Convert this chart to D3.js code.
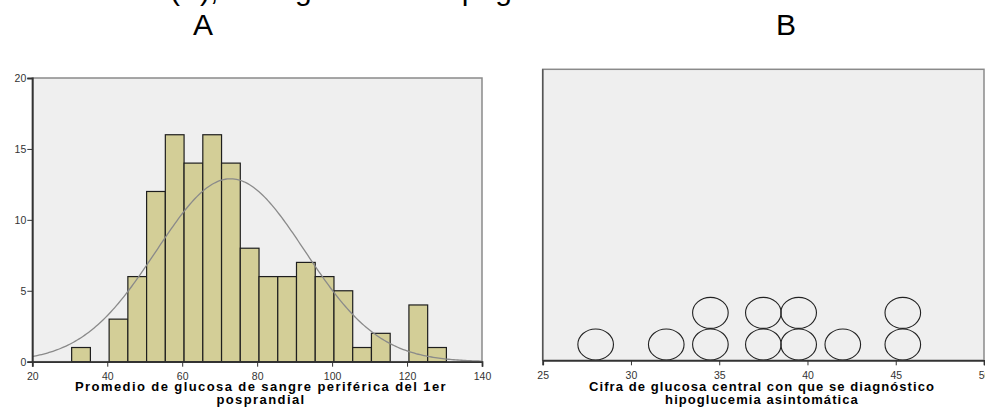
<!DOCTYPE html>
<html>
<head>
<meta charset="utf-8">
<script src="https://cdn.jsdelivr.net/npm/d3@7"></script>
<style>
  body { margin: 0; background: #fff; }
  svg { display: block; font-family: "Liberation Sans", Arial, sans-serif; }
  .tick text { fill: #333; font-size: 10.5px; }
  .axis-title { font-weight: bold; font-size: 13px; fill: #000; }
</style>
</head>
<body>
<div id="chart"></div>
<script>
// histograma A: bins of width 5, lower edges
var binStarts = [30.5, 35.5, 40.5, 45.5, 50.5, 55.5, 60.5, 65.5, 70.5, 75.5, 80.5, 85.5, 90.5, 95.5, 100.5, 105.5, 110.5, 115.5, 120.5, 125.5];
var binCounts = [1, 0, 3, 6, 12, 16, 14, 16, 14, 8, 6, 6, 7, 6, 5, 1, 2, 0, 4, 1];
var binWidth = 5;
var fitMean = 72.9, fitSd = 19.8;
var xTicksA = [20, 40, 60, 80, 100, 120, 140];
var yTicksA = [0, 5, 10, 15, 20];

// diagrama de puntos B
var dotValues = [28, 32, 34.5, 34.5, 37.5, 37.5, 39.5, 39.5, 42, 45.4, 45.4];
var xTicksB = [25, 30, 35, 40, 45, 50];

var width = 985, height = 413;

var svg = d3.select("#chart").append("svg")
  .attr("width", width)
  .attr("height", height);

// clipped caption line above
svg.append("text")
  .attr("x", 170).attr("y", 0)
  .style("font-size", "30px")
  .text("(A), Histograma de la página");

svg.append("text").attr("x", 203).attr("y", 35)
  .attr("text-anchor", "middle").style("font-size", "30px").text("A");
svg.append("text").attr("x", 786).attr("y", 35)
  .attr("text-anchor", "middle").style("font-size", "30px").text("B");

// axis title in two lines, spaced out to the wanted width
function axisTitle(cx, lines, lineWidth) {
  var t = svg.append("text").attr("class", "axis-title").attr("text-anchor", "middle");
  var spans = lines.map(function(s, i) {
    return t.append("tspan").attr("x", cx).attr("y", 391 + i * 12.5).text(s);
  });
  var natural = spans[0].node().getComputedTextLength();
  var ls = (lineWidth - natural) / lines[0].length;
  spans.forEach(function(sp) { sp.style("letter-spacing", ls + "px"); });
}

function styleAxis(g) {
  g.select(".domain").attr("stroke", "#333").attr("stroke-width", 1.8);
  g.selectAll(".tick line").attr("stroke", "#333");
  g.selectAll("text").attr("font-size", null);
}

// ---------- A ----------
var xA = d3.scaleLinear().domain([20, 140]).range([32.3, 482]);
var yA = d3.scaleLinear().domain([0, 20]).range([361.7, 78]);

var gA = svg.append("g");
gA.append("rect")
  .attr("x", xA(20)).attr("y", yA(20))
  .attr("width", xA(140) - xA(20)).attr("height", yA(0) - yA(20))
  .attr("fill", "#efefef").attr("stroke", "#8a8a8a").attr("stroke-width", 1.5);

var n = d3.sum(binCounts);
gA.selectAll(".bar")
  .data(binStarts.map(function(s, i) { return { x0: s, count: binCounts[i] }; })
    .filter(function(d) { return d.count > 0; }))
  .enter().append("rect")
  .attr("class", "bar")
  .attr("x", function(d) { return xA(d.x0); })
  .attr("y", function(d) { return yA(d.count); })
  .attr("width", function(d) { return xA(d.x0 + binWidth) - xA(d.x0); })
  .attr("height", function(d) { return yA(0) - yA(d.count); })
  .attr("fill", "#d3ce97")
  .attr("stroke", "#1e1e1e")
  .attr("stroke-width", 1.2);

// normal curve
var curveX = d3.range(20, 140.01, 0.5);
var normal = function(x) {
  var z = (x - fitMean) / fitSd;
  return n * binWidth / (fitSd * Math.sqrt(2 * Math.PI)) * Math.exp(-0.5 * z * z);
};
gA.append("path")
  .datum(curveX)
  .attr("fill", "none")
  .attr("stroke", "#8a8a8a")
  .attr("stroke-width", 1.3)
  .attr("d", d3.line().x(function(d) { return xA(d); }).y(function(d) { return yA(normal(d)); }));

gA.append("g")
  .attr("transform", "translate(0," + yA(0) + ")")
  .call(d3.axisBottom(xA).tickValues(xTicksA).tickSize(5).tickPadding(6))
  .call(styleAxis);

gA.append("g")
  .attr("transform", "translate(" + xA(20) + ",0)")
  .call(d3.axisLeft(yA).tickValues(yTicksA).tickSize(5).tickPadding(1))
  .call(styleAxis);

axisTitle(261, ["Promedio de glucosa de sangre periférica del 1er", "posprandial"], 372);

// ---------- B ----------
var xB = d3.scaleLinear().domain([25, 50]).range([542.7, 984]);
var yB = d3.scaleLinear().domain([0, 9.2]).range([360.3, 69.3]);

var gB = svg.append("g");
gB.append("rect")
  .attr("x", xB(25)).attr("y", yB(9.2))
  .attr("width", xB(50) - xB(25)).attr("height", yB(0) - yB(9.2))
  .attr("fill", "#efefef").attr("stroke", "#8a8a8a").attr("stroke-width", 1.5);

gB.append("line")
  .attr("x1", xB(25)).attr("x2", xB(25))
  .attr("y1", yB(9.2)).attr("y2", yB(0))
  .attr("stroke", "#555").attr("stroke-width", 1.5);

var seen = {};
var dots = dotValues.map(function(v) {
  seen[v] = (seen[v] || 0) + 1;
  return { value: v, level: seen[v] - 1 };
});
var rx = 17.8, ry = yB(0) - yB(0.5);
gB.selectAll(".dot")
  .data(dots)
  .enter().append("ellipse")
  .attr("class", "dot")
  .attr("cx", function(d) { return xB(d.value); })
  .attr("cy", function(d) { return yB(d.level + 0.5); })
  .attr("rx", rx).attr("ry", ry - 0.3)
  .attr("fill", "none")
  .attr("stroke", "#222")
  .attr("stroke-width", 1.1);

gB.append("g")
  .attr("transform", "translate(0," + yB(0) + ")")
  .call(d3.axisBottom(xB).tickValues(xTicksB).tickSize(5).tickPadding(6))
  .call(styleAxis);

axisTitle(762, ["Cifra de glucosa central con que se diagnóstico", "hipoglucemia asintomática"], 346);
</script>
</body>
</html>
